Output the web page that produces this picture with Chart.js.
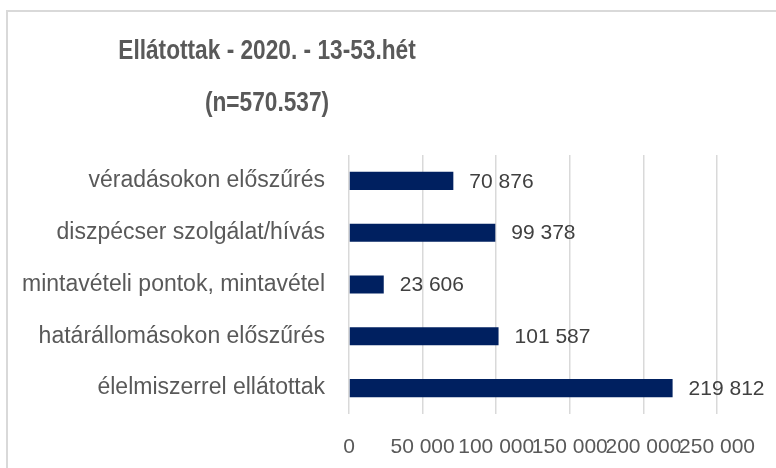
<!DOCTYPE html>
<html><head><meta charset="utf-8">
<script src="https://cdn.jsdelivr.net/npm/chart.js@4"></script>
<style>html,body{margin:0;padding:0;background:#fff;} #wrap{width:776px;height:468px;position:relative;}</style>
</head><body><div id="wrap"><canvas id="c" width="776" height="468"></canvas></div>
<script>
const titleLines = ['Ellátottak - 2020. - 13-53.hét', '(n=570.537)'];
const categories = ['véradásokon előszűrés', 'diszpécser szolgálat/hívás', 'mintavételi pontok, mintavétel', 'határállomásokon előszűrés', 'élelmiszerrel ellátottak'];
const values = [70876, 99378, 23606, 101587, 219812];
const tickValues = [0, 50000, 100000, 150000, 200000, 250000];

function fmt(v) { return String(Math.round(v)).replace(/\B(?=(\d{3})+(?!\d))/g, ' '); }

const decor = {
  id: 'decor',
  beforeDraw(chart) {
    const ctx = chart.ctx;
    ctx.save();
    ctx.fillStyle = '#fff';
    ctx.fillRect(0, 0, chart.width, chart.height);
    ctx.strokeStyle = '#d9d9d9';
    ctx.lineWidth = 2;
    ctx.strokeRect(7, 11, chart.width + 20, chart.height + 20);
    ctx.restore();
  },
  afterDatasetsDraw(chart) {
    const ctx = chart.ctx;
    const meta = chart.getDatasetMeta(0);
    ctx.save();
    ctx.font = '21px "Liberation Sans", Arial, sans-serif';
    ctx.fillStyle = '#404040';
    ctx.textAlign = 'left';
    ctx.textBaseline = 'middle';
    meta.data.forEach((bar, i) => {
      ctx.fillText(fmt(values[i]), bar.x + 16, bar.y + 1);
    });
    ctx.restore();
  },
  afterDraw(chart) {
    const ctx = chart.ctx;
    ctx.save();
    ctx.font = 'bold 28px "Liberation Sans", Arial, sans-serif';
    ctx.fillStyle = '#595959';
    ctx.textAlign = 'center';
    ctx.textBaseline = 'alphabetic';
    [[titleLines[0], 59], [titleLines[1], 111]].forEach(([t, y]) => {
      ctx.save();
      ctx.translate(267, y);
      ctx.scale(0.81, 1);
      ctx.fillText(t, 0, 0);
      ctx.restore();
    });
    ctx.restore();
  }
};

new Chart(document.getElementById('c'), {
  type: 'bar',
  data: {
    labels: categories,
    datasets: [{
      data: values,
      backgroundColor: '#002060',
      borderWidth: 0,
      barPercentage: 0.35,
      categoryPercentage: 1
    }]
  },
  options: {
    indexAxis: 'y',
    responsive: false,
    animation: false,
    layout: { padding: { top: 155, right: 58, bottom: 0, left: 0 } },
    plugins: { legend: { display: false }, title: { display: false }, tooltip: { enabled: false } },
    scales: {
      x: {
        min: tickValues[0],
        max: tickValues[tickValues.length - 1],
        afterBuildTicks(axis) { axis.ticks = tickValues.map(v => ({ value: v })); },
        afterFit(axis) { axis.height = 54; },
        grid: { color: '#d9d9d9', lineWidth: 1.5, drawTicks: false },
        border: { display: false },
        ticks: {
          autoSkip: false, maxRotation: 0, minRotation: 0, padding: 21,
          color: '#595959',
          font: { family: '"Liberation Sans", Arial, sans-serif', size: 21 },
          callback: (v) => fmt(v)
        }
      },
      y: {
        afterFit(axis) { axis.width = 349; },
        grid: { display: false, drawTicks: false },
        border: { display: false },
        ticks: {
          padding: 24,
          color: '#595959',
          font: { family: '"Liberation Sans", Arial, sans-serif', size: 23 }
        }
      }
    }
  },
  plugins: [decor]
});
</script>
</body></html>
